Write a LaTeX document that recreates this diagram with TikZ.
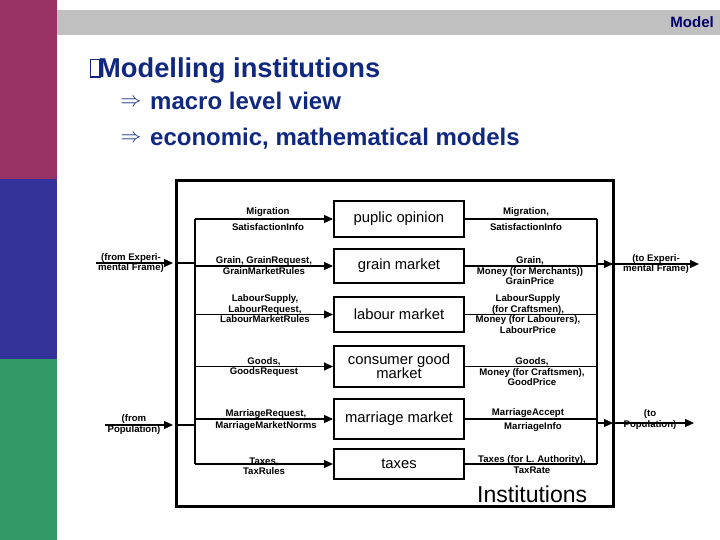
\documentclass[tikz,border=0pt]{standalone}
\usepackage{fontspec}
\setmainfont{Liberation Sans}
\usetikzlibrary{arrows.meta}
\definecolor{barmag}{RGB}{153,51,102}
\definecolor{barblue}{RGB}{51,51,153}
\definecolor{bargreen}{RGB}{51,153,102}
\definecolor{bargrey}{RGB}{192,192,192}
\definecolor{navy}{RGB}{16,40,128}
\definecolor{darknavy}{RGB}{0,0,102}
\tikzset{
  arr/.style={-{Triangle[length=9pt,width=8pt]}, line width=1.1pt},
  conn/.style={line width=1.1pt},
  inst/.style={draw, line width=2pt, minimum width=130pt, align=center, inner sep=0pt,
    font=\fontsize{14.8}{14}\selectfont},
  lbl/.style={font=\fontsize{9.6}{10.5}\selectfont\bfseries, align=center, inner sep=0pt},
}
\begin{document}
\begin{tikzpicture}[x=1pt,y=-1pt]
\useasboundingbox (0,0) rectangle (720,540);
% side bars and header
\fill[barmag] (0,0) rectangle (57,179);
\fill[barblue] (0,179) rectangle (57,359);
\fill[bargreen] (0,359) rectangle (57,540);
\fill[bargrey] (57,10) rectangle (720,35);
\node[anchor=base east, inner sep=0pt, text=darknavy, font=\fontsize{15}{15}\selectfont\bfseries] (model) at (714,28) {Model};
% title
\draw[navy, line width=1.3pt] (90.5,59.5) rectangle (100,77);
\node[anchor=base west, inner sep=0pt, text=navy, font=\fontsize{27.3}{27.3}\selectfont\bfseries] (title) at (98,77.5) {Modelling institutions};
\node[text=navy, inner sep=0pt, font=\fontsize{22}{22}\selectfont] (ar1) at (131,103) {$\Rightarrow$};
\node[anchor=base west, inner sep=0pt, text=navy, font=\fontsize{24}{24}\selectfont\bfseries] (b1) at (150,110) {macro level view};
\node[text=navy, inner sep=0pt, font=\fontsize{22}{22}\selectfont] (ar2) at (131,139) {$\Rightarrow$};
\node[anchor=base west, inner sep=0pt, text=navy, font=\fontsize{24}{24}\selectfont\bfseries] (b2) at (150,146) {economic, mathematical models};
% outer frame
\node[draw, line width=3pt, minimum width=437pt, minimum height=325pt, inner sep=0pt] (frame) at (394.5,343.5) {};
\node[anchor=base west, inner sep=0pt, font=\fontsize{23}{23}\selectfont] (instlbl) at (477,502) {Institutions};
% institution boxes
\node[inst, minimum height=36pt] (po) at (399,219) {puplic opinion};
\node[inst, minimum height=34pt] (gm) at (399,266) {grain market};
\node[inst, minimum height=35pt] (lm) at (399,314.5) {labour market};
\node[inst, minimum height=41pt] (cg) at (399,366.5) {consumer good\\market};
\node[inst, minimum height=40pt] (mm) at (399,419) {marriage market};
\node[inst, minimum height=30pt] (tx) at (399,464) {taxes};
% buses
\coordinate (lbtop) at (195,219);
\coordinate (lbbot) at (195,464);
\coordinate (rbtop) at (597,219);
\coordinate (rbbot) at (597,464);
\draw[conn] (lbtop) -- (lbbot);
\draw[conn] (rbtop) -- (rbbot);
\foreach \b in {po,gm,lm,cg,mm,tx}{
  \draw[arr] (lbtop |- \b.west) -- (\b.west);
  \draw[conn] (\b.east) -- (rbtop |- \b.east);
}
% inputs
\coordinate (inA) at (96,263);
\coordinate (inB) at (105,425);
\draw[arr, shorten >=1.5pt] (inA) -- (inA -| frame.west);
\draw[conn] (inA -| frame.west) -- (inA -| lbtop);
\draw[arr, shorten >=1.5pt] (inB) -- (inB -| frame.west);
\draw[conn] (inB -| frame.west) -- (inB -| lbtop);
% outputs
\coordinate (outA) at (699,264);
\coordinate (outB) at (694,423);
\draw[arr, shorten >=1.5pt] (rbtop |- outA) -- (outA -| frame.east);
\draw[arr] (outA -| frame.east) -- (outA);
\draw[arr, shorten >=1.5pt] (rbtop |- outB) -- (outB -| frame.east);
\draw[arr] (outB -| frame.east) -- (outB);
% outer labels
\node[lbl] (fromEF) at (131,263) {(from Experi-\\mental Frame)};
\node[lbl] (fromPop) at (134,424.5) {(from\\Population)};
\node[lbl] (toEF) at (656,264) {(to Experi-\\mental Frame)};
\node[lbl] (toPop) at (650,419.5) {(to\\Population)};
% left labels
\node[lbl] (l1a) at (268,212) {Migration};
\node[lbl] (l1b) at (268,227) {SatisfactionInfo};
\node[lbl] (l2) at (264,265.5) {Grain, GrainRequest,\\GrainMarketRules};
\node[lbl] (l3) at (265,309) {LabourSupply,\\LabourRequest,\\LabourMarketRules};
\node[lbl] (l4) at (264,367) {Goods,\\GoodsRequest};
\node[lbl] (l5) at (266,420) {MarriageRequest,\\[1.5pt]MarriageMarketNorms};
\node[lbl] (l6) at (264,466) {Taxes,\\TaxRules};
% right labels
\node[lbl] (r1a) at (526,212) {Migration,};
\node[lbl] (r1b) at (526,227) {SatisfactionInfo};
\node[lbl] (r2) at (530,271) {Grain,\\Money (for Merchants))\\GrainPrice};
\node[lbl] (r3) at (528,314) {LabourSupply\\(for Craftsmen),\\Money (for Labourers),\\LabourPrice};
\node[lbl] (r4) at (532,372) {Goods,\\Money (for Craftsmen),\\GoodPrice};
\node[lbl] (r5a) at (528,413) {MarriageAccept};
\node[lbl] (r5b) at (533,427) {MarriageInfo};
\node[lbl] (r6) at (532,464.5) {Taxes (for L. Authority),\\TaxRate};
\end{tikzpicture}
\end{document}
